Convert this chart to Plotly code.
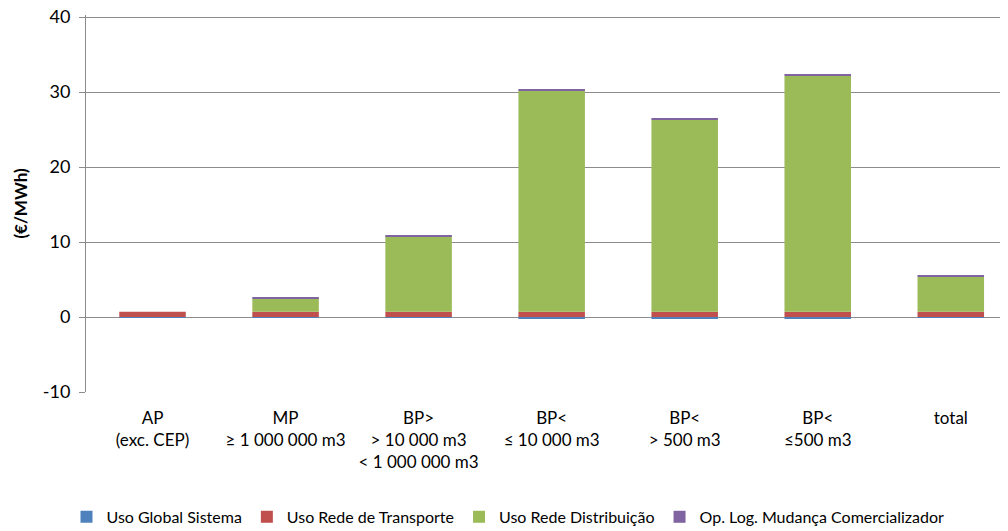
import plotly.graph_objects as go

categories = ["AP<br>(exc. CEP)", "MP<br>≥ 1 000 000 m3", "BP><br>> 10 000 m3<br>< 1 000 000 m3",
              "BP<<br>≤ 10 000 m3", "BP<<br>> 500 m3", "BP<<br>≤500 m3", "total"]
uso_global = [-0.05, -0.1, -0.1, -0.25, -0.25, -0.25, -0.1]
uso_transporte = [0.7, 0.7, 0.7, 0.7, 0.7, 0.7, 0.7]
uso_distribuicao = [0.0, 1.8, 10.1, 29.5, 25.6, 31.5, 4.7]
op_log = [0.0, 0.05, 0.15, 0.2, 0.2, 0.2, 0.15]
y_ticks = [-10, 0, 10, 20, 30, 40]
y_tick_labels = ["-10", "0", "10", "20", "30", "40"]

series = [
    ("Uso Global Sistema", uso_global, "#4F81BD"),
    ("Uso Rede de Transporte", uso_transporte, "#C0504D"),
    ("Uso Rede Distribuição", uso_distribuicao, "#9BBB59"),
    ("Op. Log. Mudança Comercializador", op_log, "#8064A2"),
]

font_family = "Lato, Open Sans, sans-serif"

fig = go.Figure()
for name, vals, col in series:
    fig.add_trace(go.Bar(x=list(range(len(categories))), y=vals, name=name,
                         marker=dict(color=col, line=dict(width=0)), width=0.5))

fig.update_layout(
    barmode="relative",
    width=1000, height=523,
    margin=dict(l=78, r=0, t=7, b=139, autoexpand=False),
    plot_bgcolor="white", paper_bgcolor="white",
    font=dict(family=font_family, size=17, color="black"),
    showlegend=True,
    legend=dict(orientation="h", x=0.5, xanchor="center", xref="container",
                y=0.027, yanchor="middle", yref="container",
                font=dict(size=16), itemwidth=30, traceorder="normal",
                tracegroupgap=0, itemsizing="constant"),
    xaxis=dict(range=[-0.5, 6.43], tickmode="array", tickvals=list(range(len(categories))),
               ticktext=categories, showgrid=False, ticks="", showline=False,
               tickfont=dict(size=17), zeroline=False, automargin=False,
               ticklabelstandoff=14),
    yaxis=dict(range=[-10, 40.27], tickmode="array", tickvals=y_ticks, ticktext=y_tick_labels,
               showgrid=True, gridcolor="#8c8c8c", gridwidth=1,
               zeroline=False, showline=True, linecolor="#8c8c8c", linewidth=1,
               ticks="outside", ticklen=6, tickcolor="#8c8c8c", tickfont=dict(size=18),
               automargin=False, ticklabelstandoff=5, ticklabeloverflow="allow",
               title=dict(text="<b>(€/MWh)</b>", font=dict(size=17), standoff=10)),
)

fig.write_html("out.html")
